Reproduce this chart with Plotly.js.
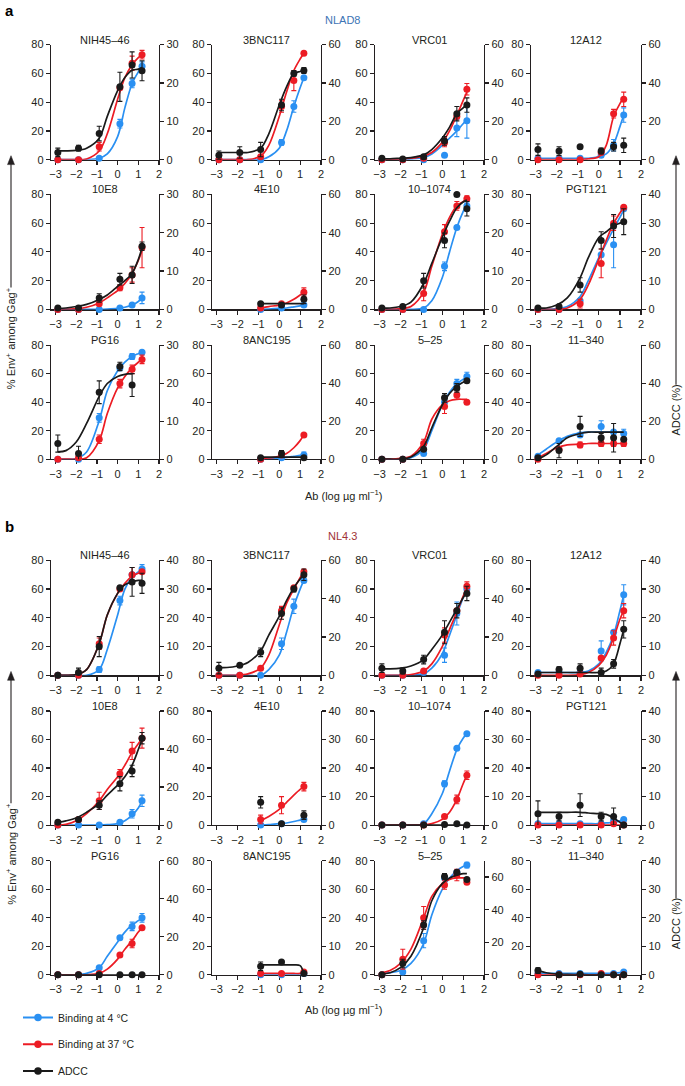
<!DOCTYPE html>
<html><head><meta charset="utf-8">
<script src="https://cdn.plot.ly/plotly-3.0.1.min.js"></script>
<style>html,body{margin:0;padding:0;background:#fff}#chart{width:685px;height:1086px}</style>
</head><body><div id="chart"></div>
<script>
const N = null;
// ---- shared x values (log ug/ml) ----
const doses = [-2.89, -1.89, -0.89, 0.11, 0.70, 1.18];
const fitX  = [-2.89, -2.5, -2, -1.5, -0.89, -0.5, 0, 0.35, 0.7, 1, 1.18];
const xTicks = [-3, -2, -1, 0, 1, 2];
const leftTicks = [0, 20, 40, 60, 80];

// ---- panel names & right-axis (ADCC) maxima ----
const namesA = ['NIH45–46','3BNC117','VRC01','12A12','10E8','4E10','10–1074','PGT121','PG16','8ANC195','5–25','11–340'];
const namesB = ['NIH45–46','3BNC117','VRC01','12A12','10E8','4E10','10–1074','PGT121','PG16','8ANC195','5–25','11–340'];
const rightMaxA = [30,60,60,60, 30,60,30,40, 30,60,80,60];
const rightMaxB = [40,60,60,40, 60,40,40,40, 60,40,70,40];

// ---- NLAD8 (a) : binding at 4 C (blue) ----
const blueA_pts = [[0,0,1,25,53,65],[0,0,0,12,37,57],[0,0,0,3,22,27],[1,1,1,3,10,31],
  [0,0,0,1,3,8],[N,N,0,1,N,3],[0,0,0,30,57,72],[0,0,6,38,45,70],
  [0,0,29,64,72,75],[N,N,0,1,N,3],[0,0,4,40,53,58],[2,13,17,23,19,18]];
const blueA_err = [[0,0,0,3,3,3],[0,0,0,2,4,0],[0,0,0,0,6,12],[0,0,0,0,4,5],
  [0,0,0,0,1,4],[0,0,0,0,0,1],[0,0,0,3,0,2],[0,0,0,0,16,0],
  [0,0,3,0,2,0],[0,0,0,0,0,2],[0,0,0,4,3,3],[0,0,0,4,0,3]];
const blueA_fit = [[0,0,0,0,1,4,16,36,53,61,65],[0,0,0,0,0,2,8,20,37,50,57],[0,0,0,0.5,1.5,4,10,15,20,25,28],[1,1,1,1,1,1,2,4,11,23,31],
  [0,0,0,0,0,0.2,0.7,1.5,3,5.5,8],[N,N,N,N,0,0.3,0.7,1,1.8,2.5,3],[0,0,0,0,1,6,22,40,57,68,73],[0,0,0.5,2,9,20,36,46,56,64,69],
  [0,0,0.5,5,27,48,62,68,72,74,75],[N,N,N,N,0,0.3,0.8,1.2,2,2.7,3],[0,0,0,1,7,20,38,47,53,56,58],[3,7,12,16,18.5,19,19,19,19,19,19]];

// ---- NLAD8 (a) : binding at 37 C (red) ----
const redA_pts = [[0,0,9,50,67,73],[0,0,2,37,55,74],[0,0,1,12,30,49],[0,0,0,5,32,42],
  [0,0,4,15,24,43],[N,N,1,4,N,12],[0,0,11,54,72,77],[0,0,4,32,60,71],
  [0,1,14,53,63,70],[N,N,0,3,N,17],[0,0,11,37,45,40],[0,7,10,11,11,11]];
const redA_err = [[0,0,3,0,5,3],[0,0,0,4,7,0],[0,0,0,3,0,4],[0,0,0,0,3,5],
  [0,0,0,2,5,14],[0,0,0,0,0,3],[0,0,5,5,3,2],[0,0,3,10,5,0],
  [0,0,3,3,3,3],[0,0,0,0,0,1],[0,0,3,5,3,0],[0,0,2,2,2,2]];
const redA_fit = [[0,0,0,0.5,6,18,42,57,66,71,73],[0,0,0,0,2.5,10,30,47,62,70,74],[0,0,0.5,1,2.5,5,12,20,31,41,47],[0,0,0,0,0,0.5,2,10,30,39,43],
  [0,0,0.5,1.5,4.5,8,13,18,25,34,41],[N,N,N,N,1,2,3,4.5,7,10,12],[0,0,0.5,2,12,30,52,64,72,75,77],[0,0,0,1,7,17,35,48,60,67,71],
  [0,0,0,1,13,32,50,58,64,68,70],[N,N,N,N,0.3,0.8,2,4,8,13,17],[0,0,0.5,2,12,28,38,41,42,42,42],[1,4,8,10,10.5,11,11,11,11,11,11]];

// ---- NLAD8 (a) : ADCC (black, right axis units) ----
const blackA_pts = [[1.9,3,6.8,19,24.7,23.2],[2.25,3.75,5.25,28.5,45,46.5],[0.75,0.4,1.5,9.75,24,28.5],[5.25,4.5,6.75,4.5,6.75,7.5],
  [0.375,0.375,3,7.9,9,16.5],[N,N,3,2.25,N,5.25],[0.375,0.75,7.5,18,30,26.25],[0.5,1,8.5,24,29,30.5],
  [4.1,1.5,17.6,24.4,19.5,N],[N,N,0.75,3,N,0.75],[0,0,7,43,50,55],[0.75,4.5,17.25,11.25,11.25,10.5]];
const blackA_err = [[1.1,0.75,1.9,3.8,3.4,2.6],[2.25,3,3.75,3,1.5,1.5],[0,0,0,2.25,3.75,3.75],[3,2.25,0.75,1.5,2.25,3.75],
  [0,0,1.1,1.5,2.25,1.1],[0,0,0,0,0,2.25],[0,0,1.9,1.9,0,1.9],[0,0,2.5,3,4,4.5],
  [2.25,1.9,3,1.1,3,0],[0,0,0,1.5,0,0],[0,0,0,3,3,0],[0,3.75,5.25,2.25,7.5,0]];
const blackA_fit = [[2.3,2.3,2.4,3,5.6,11.3,18,21.4,23.3,23.6,24],[3.75,3.75,3.75,3.75,6,13.5,28.5,38,45,46,46.5],[0.4,0.4,0.75,1.1,2.5,5.25,11.25,17,24,27,29],[N,N,N,N,N,N,N,N,N,N,N],
  [0.19,0.375,0.75,1.3,2.6,3.75,6,7.5,9.4,13,16.1],[N,N,N,N,3,3,3,3,3,3,3],[0.375,0.375,0.75,1.9,6.75,12,18.75,23,26.5,28,28.5],[0.5,0.5,1.5,4,11,18,25,27,29,30,30.5],
  [1.9,2.25,4.5,9.4,16.5,19.9,21.75,22.3,22.5,N,N],[N,N,N,N,1.1,1.1,1.1,1.1,1.1,1.1,1.1],[0,0,0,1.5,9,22,38,46,51,54,55],[0,2.25,6.75,11.25,13.5,14.25,14.25,14.25,14.25,14.25,14.25]];

// ---- NL4.3 (b) : binding at 4 C (blue) ----
const blueB_pts = [[0,0,4,52,70,74],[0,0,0,22,48,66],[0,0,2,14,43,60],[2,2,2,17,30,56],
  [0,0,0,2,8,17],[N,N,0,1,N,4],[0,0,1,29,54,64],[1,1,1,1,3,4],
  [0,0,5,26,34,40],[N,N,0,0,N,1],[0,2,24,68,72,77],[1,1,1,0.5,1,2]];
const blueB_err = [[0,0,2,3,0,3],[0,0,0,4,5,0],[0,0,0,5,8,0],[0,0,0,7,0,7],
  [0,0,0,0,3,4],[0,0,0,0,0,0],[0,0,0,2,0,0],[0,0,0,0,0,0],
  [0,0,0,0,3,3],[0,0,0,0,0,0],[0,0,5,0,0,2],[0,0,0,0,0,0]];
const blueB_fit = [[0,0,0,0,4,18,42,60,68,72,74],[0,0,0,0,0,4,14,30,48,60,66],[0,0,0,0,1,5,15,28,42,54,60],[2,2,2,2,2,3,8,16,28,45,56],
  [0,0,0,0,0,0.3,1,3,7,12,17],[N,N,N,N,0,0.3,1,1.5,2.5,3.5,4],[0,0,0,0,1,8,22,38,53,61,64],[1,1,1,1,1,1,1,1.5,2,3,4],
  [0,0,0,1,5,13,23,30,35,38,40],[N,N,N,N,0,0,0,0,0.3,0.6,1],[1,1.5,3,8,22,42,60,68,73,76,77],[1,1,1,1,1,1,1,1,1.2,1.5,2]];

// ---- NL4.3 (b) : binding at 37 C (red) ----
const redB_pts = [[0,0,22,60,70,72],[0,0,5,45,61,72],[0,0,3,28,45,62],[0,0,1,12,26,45],
  [0,4,17,36,52,61],[N,N,4,14,N,27],[0,0,0,6,18,35],[0,0,0,0,1,0],
  [0,0,1,14,22,33],[N,N,1,1,N,2],[0,11,40,63,70,65],[0,0,0,1,0,0]];
const redB_err = [[0,0,4,0,5,0],[0,0,0,3,0,0],[0,0,0,5,0,3],[0,0,0,0,5,5],
  [0,0,6,3,6,7],[0,0,3,6,0,3],[0,0,0,0,3,3],[0,0,0,0,0,0],
  [0,0,0,0,3,0],[0,0,0,0,0,0],[0,7,8,3,4,0],[0,0,0,0,0,0]];
const redB_fit = [[0,0,0.5,4,22,42,57,64,69,71,72],[0,0,0,1,5,14,35,50,60,68,72],[0,0,0,0.5,3,8,20,32,44,55,61],[0,0,0,0,0.5,2,7,14,26,39,45],
  [0,0.5,3,8,17,25,34,42,51,57,61],[N,N,N,N,3,6,11,16,21,25,27],[0,0,0,0,0,1,4,9,18,29,35],[0,0,0,0,0,0,0,0,0,0,0],
  [0,0,0,0,1,4,11,18,24,30,33],[N,N,N,N,1,1,1,1,1,1,2],[1.5,3,8,18,40,55,64,67,68,68,68],[0,0,0,0,0,0,0,0,0,0,0]];

// ---- NL4.3 (b) : ADCC (black, right axis units) ----
const blackB_pts = [[0,1,10,30.5,32.5,32],[3.75,5.25,12,32.25,45,52.5],[3.75,2.25,8.25,22.5,33.75,42.75],[0.5,2,2.5,1,4,16],
  [1.5,3,10.5,21.75,28.5,45.75],[N,N,8,0.5,N,3.5],[0,0,0,0.25,0.5,0],[4,3,7,3,3,0],
  [0,0,0,0,0,0],[N,N,3,4.5,N,0.5],[0,7,30.6,60.4,63,58.6],[1.5,0,0.25,0,0,0]];
const blackB_err = [[0,1.5,3.5,0,5,3.5],[3,0,2.25,3,1.5,3],[2.25,1.5,2.25,6,3.75,3.75],[0,1,1.5,1.5,1.5,3],
  [0.75,0,2.25,3.75,3,3],[0,0,2,0,0,1.5],[0,0,0,0,0,0],[4.5,1.5,4,1.5,3,0],
  [0,0,0,0,0,0],[0,0,1.5,0,0,0],[0,2.6,2.6,1.75,0,0],[1,0,0,0,0,0]];
const blackB_fit = [[0,0,0.25,2,11,21,28.5,31.5,32.5,33,33],[4.1,4.1,4.9,6.75,12.75,21,30.75,39,45.75,50.25,52.5],[3.4,3.4,3.75,4.9,8.25,13.5,21,27.75,34.5,40.5,43.5],[1,1,1,1,1,1,1,1.5,4,11,16],
  [1.5,2.25,3.75,6.75,11.25,15.75,21,25.5,31.5,39.75,45],[N,N,N,N,N,N,N,N,N,N,N],[0,0,0,0,0,0,0,0,0,0,0],[4.5,4.5,4.5,4.5,4.5,4.25,4,3.75,2.5,1,0],
  [0,0,0,0,0,0,0,0,0,0,0],[N,N,N,N,3.5,3.5,3.5,3.5,3.5,3.25,0.5],[0.44,1.3,4.4,11.4,28.9,45.5,56,59.5,61.25,62.1,62.1],[1.5,0.75,0.25,0.15,0.1,0,0,0,0,0,0]];

const legendNames = ['Binding at 4 °C', 'Binding at 37 °C', 'ADCC'];

// ---- layout geometry (pixels) ----
const W = 685, H = 1086;
const FONT = 'Liberation Sans, Arial, Helvetica, sans-serif';
const TXT = '#231f20';
const colL = [51, 212, 375, 531], colR = [159, 321, 484, 641];
const rowTopA = [45, 196, 348], rowBotA = [161, 312, 463];
const rowTopB = [565, 717, 868], rowBotB = [681, 832, 983];
const COLORS = ['#2a90f2', '#ec1c24', '#1a1a1a'];

const px = v => v / W;
const py = v => 1 - v / H;

const data = [];
const layout = {
  width: W, height: H, margin: {l: 0, r: 0, t: 0, b: 0},
  paper_bgcolor: '#ffffff', plot_bgcolor: 'rgba(0,0,0,0)',
  font: {family: FONT, size: 11, color: TXT},
  showlegend: true, annotations: [], shapes: []
};

function axisKey(letter, n) { return letter + 'axis' + (n === 1 ? '' : n); }
function axisId(letter, n) { return letter + (n === 1 ? '' : n); }

function addPanel(p, name, rmax, series, top, bot, col) {
  const n = p + 1, nl = 2 * p + 1, nr = 2 * p + 2;
  const xid = axisId('x', n), ylid = axisId('y', nl), yrid = axisId('y', nr);
  const common = {showline: true, linecolor: TXT, linewidth: 1.2, ticks: 'outside', ticklen: 4, tickwidth: 1.2,
    tickcolor: TXT, showgrid: false, zeroline: false, fixedrange: true, layer: 'below traces',
    tickfont: {family: FONT, size: 11, color: TXT}};
  layout[axisKey('x', n)] = Object.assign({}, common, {
    domain: [px(colL[col]), px(colR[col])], range: [-3.22, 2], anchor: ylid,
    tickmode: 'array', tickvals: xTicks});
  layout[axisKey('y', nl)] = Object.assign({}, common, {
    domain: [py(bot), py(top)], range: [0, 80], anchor: xid, side: 'left',
    tickmode: 'array', tickvals: leftTicks});
  const step = rmax <= 40 ? 10 : 20;
  const rt = []; for (let v = 0; v <= rmax + 1e-9; v += step) rt.push(v);
  layout[axisKey('y', nr)] = Object.assign({}, common, {
    domain: [py(bot), py(top)], range: [0, rmax], anchor: xid, side: 'right',
    overlaying: ylid, tickmode: 'array', tickvals: rt});
  series.forEach((s, i) => {
    const yax = i === 2 ? yrid : ylid;
    if (s.fit.some(v => v !== null)) {
      data.push({type: 'scatter', mode: 'lines', x: fitX, y: s.fit, xaxis: xid, yaxis: yax,
        line: {color: COLORS[i], width: 1.7, shape: 'spline', smoothing: 0.9},
        connectgaps: false, cliponaxis: false, showlegend: false, hoverinfo: 'skip'});
    }
    data.push({type: 'scatter', mode: 'markers', x: doses, y: s.pts, xaxis: xid, yaxis: yax,
      marker: {color: COLORS[i], size: 7},
      error_y: {type: 'data', array: s.err.map(v => v > 0 ? v : null), visible: true,
        color: COLORS[i], thickness: 1.1, width: 2.5},
      cliponaxis: false, showlegend: false, hoverinfo: 'skip'});
  });
  layout.annotations.push({xref: 'paper', yref: 'paper', x: px((colL[col] + colR[col]) / 2), y: py(top - 5),
    text: name, showarrow: false, xanchor: 'center', yanchor: 'middle', font: {size: 11, color: TXT}});
}

for (let k = 0; k < 12; k++) {
  const r = Math.floor(k / 4), c = k % 4;
  addPanel(k, namesA[k], rightMaxA[k], [
    {pts: blueA_pts[k], err: blueA_err[k], fit: blueA_fit[k]},
    {pts: redA_pts[k], err: redA_err[k], fit: redA_fit[k]},
    {pts: blackA_pts[k], err: blackA_err[k], fit: blackA_fit[k]}], rowTopA[r], rowBotA[r], c);
  addPanel(12 + k, namesB[k], rightMaxB[k], [
    {pts: blueB_pts[k], err: blueB_err[k], fit: blueB_fit[k]},
    {pts: redB_pts[k], err: redB_err[k], fit: redB_fit[k]},
    {pts: blackB_pts[k], err: blackB_err[k], fit: blackB_fit[k]}], rowTopB[r], rowBotB[r], c);
}

// legend entries (one legend per entry so they can be spaced like the figure)
const legendIds = ['legend', 'legend2', 'legend3'];
const legendY = [1026, 1053, 1080];
legendNames.forEach((nm, i) => {
  data.push({type: 'scatter', mode: 'lines+markers', x: [N], y: [N], xaxis: 'x', yaxis: 'y',
    name: nm, legend: legendIds[i], line: {color: COLORS[i], width: 2}, marker: {color: COLORS[i], size: 7.5},
    hoverinfo: 'skip'});
  layout[legendIds[i]] = {x: px(18), y: py(legendY[i]), xanchor: 'left', yanchor: 'middle',
    bgcolor: 'rgba(0,0,0,0)', borderwidth: 0, font: {family: FONT, size: 10.5, color: TXT},
    itemclick: false, itemdoubleclick: false, tracegroupgap: 0};
});

function ann(x, y, text, opts) {
  layout.annotations.push(Object.assign({xref: 'paper', yref: 'paper', x: px(x), y: py(y), text: text,
    showarrow: false, xanchor: 'center', yanchor: 'middle', font: {size: 11, color: TXT}}, opts || {}));
}
ann(3, 11, '<b>a</b>', {xanchor: 'left', font: {size: 15, color: '#000'}});
ann(3, 531, '<b>b</b>', {xanchor: 'left', font: {size: 15, color: '#000'}});
ann(342, 20, 'NLAD8', {font: {size: 11, color: '#3d74b5'}});
ann(342, 540, 'NL4.3', {font: {size: 11, color: '#a13436'}});
ann(343, 499, 'Ab (log µg ml<sup>−1</sup>)');
ann(343, 1017, 'Ab (log µg ml<sup>−1</sup>)');

// side labels with arrow (line + triangular head as shapes)
const sideLabels = [
  {x: 11, tip: 157, tail: 290, text: '% Env<sup>+</sup> among Gag<sup>+</sup>', cy: 341},
  {x: 11, tip: 677, tail: 810, text: '% Env<sup>+</sup> among Gag<sup>+</sup>', cy: 861},
  {x: 676, tip: 157, tail: 388, text: 'ADCC (%)', cy: 414},
  {x: 676, tip: 677, tail: 906, text: 'ADCC (%)', cy: 932}];
sideLabels.forEach(s => {
  ann(s.x, s.cy, s.text, {textangle: -90});
  layout.shapes.push({type: 'line', xref: 'paper', yref: 'paper', x0: px(s.x), x1: px(s.x),
    y0: py(s.tail), y1: py(s.tip + 6), line: {color: TXT, width: 1.1}});
  layout.shapes.push({type: 'path', xref: 'paper', yref: 'paper',
    path: 'M ' + px(s.x - 3.5) + ' ' + py(s.tip + 9) + ' L ' + px(s.x) + ' ' + py(s.tip) + ' L ' + px(s.x + 3.5) + ' ' + py(s.tip + 9) + ' Z',
    fillcolor: TXT, line: {color: TXT, width: 0.5}});
});

Plotly.newPlot('chart', data, layout, {staticPlot: true, displayModeBar: false});
</script>
</body></html>
